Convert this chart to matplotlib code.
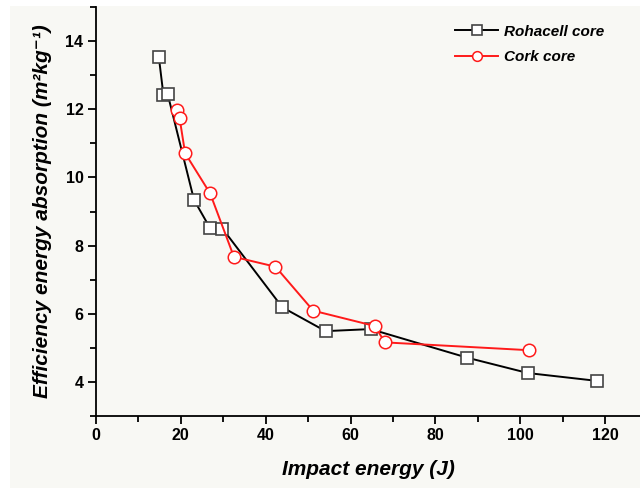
import matplotlib.pyplot as plt
from matplotlib.patches import Rectangle
from matplotlib.ticker import MultipleLocator

# impact tests on sandwich panels
roha_energy = [14.8, 15.9, 16.9, 23.1, 26.8, 29.8, 43.9, 54.1, 64.7, 87.5, 101.8, 118.1]
roha_eff = [13.54, 12.41, 12.44, 9.34, 8.53, 8.50, 6.19, 5.49, 5.55, 4.71, 4.26, 4.03]

cork_energy = [19.2, 19.7, 21.0, 26.9, 32.5, 42.3, 51.2, 65.7, 68.1, 102.1]
cork_eff = [11.98, 11.74, 10.71, 9.53, 7.67, 7.38, 6.09, 5.64, 5.16, 4.93]

plt.rcParams['font.family'] = ['Liberation Sans', 'DejaVu Sans']

fig = plt.figure(figsize=(6.4, 4.88), dpi=100, facecolor='white')
bg = '#f8f8f4'
fig.patches.append(Rectangle((10/640, 0), 1, (488-6)/488, transform=fig.transFigure,
                             facecolor=bg, edgecolor='none', zorder=-10))

ax = fig.add_axes([96/640, 72/488, 544/640, 409/488])
ax.set_facecolor(bg)

ax.plot(roha_energy, roha_eff, color='black', lw=1.4, marker='s', ms=8,
        mfc='white', mec='#444444', mew=1.2, label='Rohacell core')
ax.plot(cork_energy, cork_eff, color='#ff1a1a', lw=1.4, marker='o', ms=9,
        mfc='white', mec='#ff1a1a', mew=1.1, label='Cork core')

ax.set_xlim(0, 128.2)
ax.set_ylim(3, 15)
ax.xaxis.set_major_locator(MultipleLocator(20))
ax.xaxis.set_minor_locator(MultipleLocator(10))
ax.yaxis.set_major_locator(MultipleLocator(2))
ax.yaxis.set_minor_locator(MultipleLocator(1))

for s in ['top', 'right']:
    ax.spines[s].set_visible(False)
for s in ['left', 'bottom']:
    ax.spines[s].set_linewidth(1.3)

ax.tick_params(which='major', direction='out', length=6, width=1.3, labelsize=11.5, pad=3)
ax.tick_params(which='minor', direction='out', length=4, width=1.3)
for lab in ax.get_xticklabels() + ax.get_yticklabels():
    lab.set_fontweight('bold')

ax.set_xlabel('Impact energy (J)', fontsize=15, fontweight='bold', style='italic', labelpad=12)
ax.set_ylabel('Efficiency energy absorption (m\u00b2kg\u207b\u00b9)',
              fontsize=15, fontweight='bold', style='italic', labelpad=10)

leg = ax.legend(loc='upper left', bbox_to_anchor=(0.635, 0.99), frameon=False,
                prop={'size': 11, 'weight': 'bold', 'style': 'italic'},
                handlelength=2.8, handletextpad=0.4, labelspacing=0.75)
for h in leg.legend_handles:
    h.set_markersize(7)

fig.savefig('out.png', dpi=100, facecolor=fig.get_facecolor())
